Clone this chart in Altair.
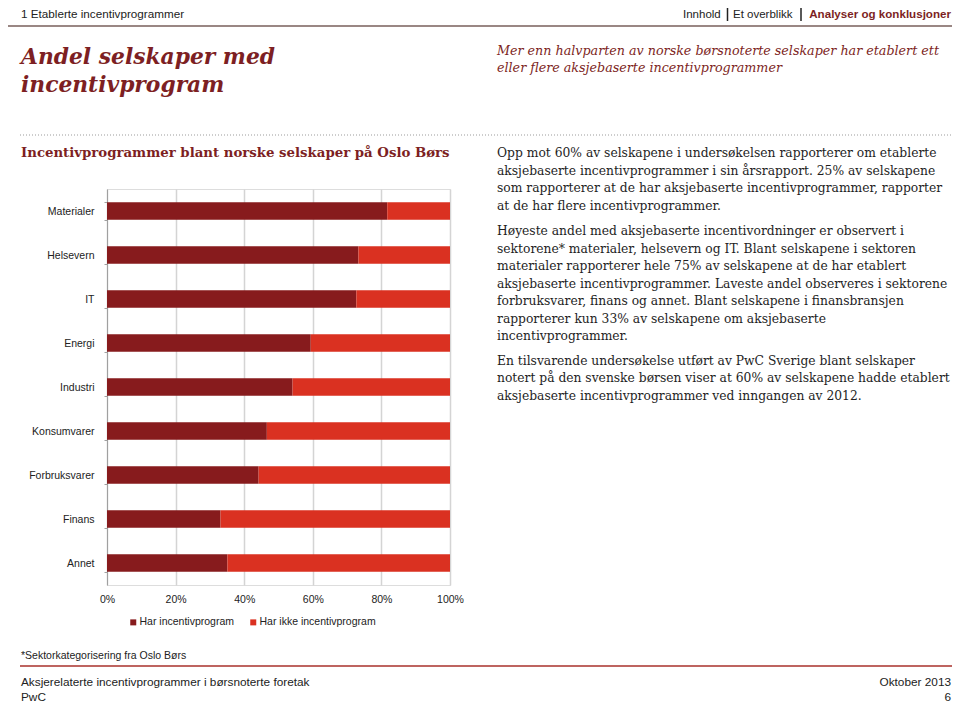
import altair as alt
import pandas as pd

# ---------------- data ----------------
SECTORS = ["Materialer", "Helsevern", "IT", "Energi", "Industri",
           "Konsumvarer", "Forbruksvarer", "Finans", "Annet"]
HAS_PROGRAM = [81.7, 73.3, 72.7, 59.4, 54.1, 46.6, 44.2, 33.1, 35.1]
SERIES = ["Har incentivprogram", "Har ikke incentivprogram"]
X_TICKS = [0, 20, 40, 60, 80, 100]

HEADER_LEFT = "1 Etablerte incentivprogrammer"
NAV = ["Innhold", "Et overblikk", "Analyser og konklusjoner"]
TITLE = ["Andel selskaper med", "incentivprogram"]
SUBTITLE = ["Mer enn halvparten av norske børsnoterte selskaper har etablert ett",
            "eller flere aksjebaserte incentivprogrammer"]
CHART_TITLE = "Incentivprogrammer blant norske selskaper på Oslo Børs"
PARA1 = ["Opp mot 60% av selskapene i undersøkelsen rapporterer om etablerte",
         "aksjebaserte incentivprogrammer i sin årsrapport. 25% av selskapene",
         "som rapporterer at de har aksjebaserte incentivprogrammer, rapporter",
         "at de har flere incentivprogrammer."]
PARA2 = ["Høyeste andel med aksjebaserte incentivordninger er observert i",
         "sektorene* materialer, helsevern og IT. Blant selskapene i sektoren",
         "materialer rapporterer hele 75% av selskapene at de har etablert",
         "aksjebaserte incentivprogrammer. Laveste andel observeres i sektorene",
         "forbruksvarer, finans og annet. Blant selskapene i finansbransjen",
         "rapporterer kun 33% av selskapene om aksjebaserte",
         "incentivprogrammer."]
PARA3 = ["En tilsvarende undersøkelse utført av PwC Sverige blant selskaper",
         "notert på den svenske børsen viser at 60% av selskapene hadde etablert",
         "aksjebaserte incentivprogrammer ved inngangen av 2012."]
FOOTNOTE = "*Sektorkategorisering fra Oslo Børs"
FOOTER_LEFT = ["Aksjerelaterte incentivprogrammer i børsnoterte foretak", "PwC"]
FOOTER_RIGHT = ["Oktober 2013", "6"]

rows = []
for i, s in enumerate(SECTORS):
    rows.append({"sector": s, "series": SERIES[0], "value": HAS_PROGRAM[i], "order": 0})
    rows.append({"sector": s, "series": SERIES[1], "value": 100 - HAS_PROGRAM[i], "order": 1})
df = pd.DataFrame(rows)
one = pd.DataFrame({"k": [0]})

# ---------------- layout ----------------
OX, OY = 107, 189          # plot origin on the page
PW, PH = 343, 396          # plot size
DARK, LIGHT = "#871b1d", "#da3121"
MAROON = "#7d1f23"
SANS = "Liberation Sans"
SERIF = "DejaVu Serif"
BODY = 12.3


def px(x):
    return x - OX


def py(y):
    return y - OY


def txt(text, x, y, size, font=SANS, color="#222222", weight="normal",
        style="normal", align="left", lh=None):
    kw = dict(text=text, fontSize=size, font=font, color=color, fontWeight=weight,
              fontStyle=style, align=align, baseline="alphabetic")
    if lh is not None:
        kw["lineHeight"] = lh
    return alt.Chart(one).mark_text(**kw).encode(x=alt.value(px(x)), y=alt.value(py(y)))


def hline(x1, x2, y, color, width, dash=None):
    kw = dict(color=color, strokeWidth=width)
    if dash:
        kw["strokeDash"] = dash
    return alt.Chart(one).mark_rule(**kw).encode(
        x=alt.value(px(x1)), x2=alt.value(px(x2)), y=alt.value(py(y)))


def vline(x, y1, y2, color, width):
    return alt.Chart(one).mark_rule(color=color, strokeWidth=width).encode(
        x=alt.value(px(x)), y=alt.value(py(y1)), y2=alt.value(py(y2)))


bars = alt.Chart(df).mark_bar().encode(
    y=alt.Y("sector:N", sort=SECTORS,
            scale=alt.Scale(paddingInner=0.6, paddingOuter=0.3),
            axis=alt.Axis(title=None, tickBand="extent", grid=False,
                          domainColor="#a0a0a0", tickColor="#a0a0a0", tickSize=3,
                          labelPadding=10, labelFont=SANS, labelFontSize=10.5,
                          labelColor="#222222")),
    x=alt.X("value:Q", stack="zero",
            scale=alt.Scale(domain=[0, 100], nice=False),
            axis=alt.Axis(values=X_TICKS, labelExpr="datum.value + '%'", title=None,
                          domain=False, ticks=False, grid=True, gridColor="#d4d4d4",
                          gridWidth=1.5, labelPadding=9, labelFont=SANS,
                          labelFontSize=10.5, labelColor="#222222", labelFlush=False)),
    color=alt.Color("series:N", sort=SERIES,
                    scale=alt.Scale(domain=SERIES, range=[DARK, LIGHT]),
                    legend=alt.Legend(orient="none", legendX=21, legendY=428,
                                      direction="horizontal", title=None,
                                      symbolType="square", symbolSize=36,
                                      symbolStrokeWidth=0, labelFont=SANS,
                                      labelFontSize=10.5, labelColor="#222222",
                                      columnPadding=13, labelOffset=1, padding=0)),
    order=alt.Order("order:Q"),
)

layers = [
    bars,
    txt(HEADER_LEFT, 21, 17.8, 11.7),
    txt(NAV[0], 683, 17.8, 11.5),
    txt(NAV[1], 733, 17.8, 11.5),
    txt(NAV[2], 951, 17.8, 11.6, color=MAROON, weight="bold", align="right"),
    vline(727.5, 8, 21, "#222222", 1.5),
    vline(801, 8, 21, "#222222", 1.5),
    hline(4, 952, 26, "#9a8784", 2),
    vline(4.5, 26, 40, "#9a8784", 1),
    txt(TITLE, 21, 63.5, 21.8, font=SERIF, color=MAROON, weight="bold",
        style="italic", lh=28),
    txt(SUBTITLE, 497, 55, 12.7, font=SERIF, color=MAROON, style="italic", lh=17),
    hline(20, 952, 135, "#9b9b9b", 1, dash=[1, 2]),
    txt(CHART_TITLE, 21, 157, 13.3, font=SERIF, color=MAROON, weight="bold"),
    txt(PARA1, 497, 157, BODY, font=SERIF, color="#1e1e1e", lh=17.5),
    txt(PARA2, 497, 235, BODY, font=SERIF, color="#1e1e1e", lh=17.5),
    txt(PARA3, 497, 364.5, BODY, font=SERIF, color="#1e1e1e", lh=17.5),
    txt(FOOTNOTE, 21, 659, 10.5),
    hline(20, 952, 666, "#a8302b", 1.5),
    txt(FOOTER_LEFT, 21, 686, 11.8, lh=14.5),
    txt(FOOTER_RIGHT, 951, 686, 11.8, align="right", lh=14.5),
]

chart = alt.layer(*layers).properties(
    width=PW, height=PH,
    autosize=alt.AutoSizeParams(type="none"),
    padding={"left": OX - 8, "top": OY - 8, "right": 944 - (OX - 8) - PW,
             "bottom": 695 - (OY - 8) - PH},
).configure_view(stroke=None).configure(background="white")

chart.save("out.html", embed_options={"renderer": "svg", "actions": False})
